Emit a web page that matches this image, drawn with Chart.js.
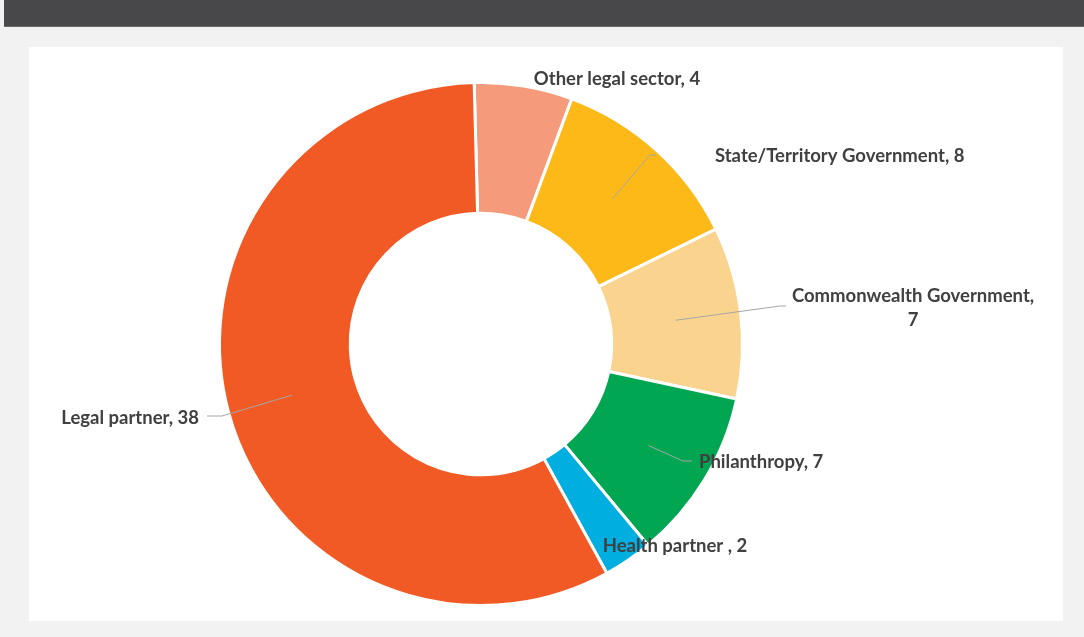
<!DOCTYPE html>
<html>
<head>
<meta charset="utf-8">
<script src="https://cdn.jsdelivr.net/npm/chart.js@4.4.1/dist/chart.umd.min.js"></script>
<style>
  html, body { margin: 0; padding: 0; }
  body { width: 1084px; height: 637px; background: #f2f2f2; position: relative; overflow: hidden; }
  .header { position: absolute; left: 4px; top: 0; width: 1080px; height: 26px; background: #48484a; border-bottom: 1px solid #6a6a6a; }
  .panel { position: absolute; left: 29px; top: 47px; width: 1034px; height: 574px; background: #fff; }
</style>
</head>
<body>
<div class="header"></div>
<div class="panel"><canvas id="fundingChart" width="1034" height="574"></canvas></div>
<script>
// Funding sources, by number of partnerships
const categories = ['Other legal sector', 'State/Territory Government', 'Commonwealth Government', 'Philanthropy', 'Health partner ', 'Legal partner'];
const counts = [4, 8, 7, 7, 2, 38];
const sliceColors = ['#f59b7b', '#fcb918', '#fad38f', '#00a651', '#00aedf', '#f15a24'];

// Label placement relative to the doughnut centre: text anchor, alignment, optional leader elbow/end
const labelLayout = [
  { x: 136, y: -265, align: 'center' },
  { x: 234, y: -188, align: 'left', elbow: [169, -189], end: [175, -189] },
  { x: 432, y: -48, align: 'center', lines: 2, elbow: [299, -38], end: [305, -38] },
  { x: 218, y: 118, align: 'left', elbow: [202, 117], end: [211, 117] },
  { x: 194, y: 202, align: 'center' },
  { x: -282, y: 74, align: 'right', elbow: [-259, 72], end: [-274, 72] }
];

const labelPlugin = {
  id: 'calloutLabels',
  afterDatasetsDraw(chart) {
    const ctx = chart.ctx;
    const meta = chart.getDatasetMeta(0);
    const cx = meta.data[0].x, cy = meta.data[0].y;
    ctx.save();
    ctx.font = 'bold 18.5px Lato';
    ctx.fillStyle = '#404040';
    ctx.textBaseline = 'middle';
    meta.data.forEach((arc, i) => {
      const lay = labelLayout[i];
      if (lay.elbow) {
        const mid = (arc.startAngle + arc.endAngle) / 2;
        const r = (arc.innerRadius + arc.outerRadius) / 2;
        ctx.beginPath();
        ctx.strokeStyle = '#a6a6a6';
        ctx.lineWidth = 1;
        ctx.moveTo(cx + Math.cos(mid) * r, cy + Math.sin(mid) * r);
        ctx.lineTo(cx + lay.elbow[0], cy + lay.elbow[1]);
        ctx.lineTo(cx + lay.end[0], cy + lay.end[1]);
        ctx.stroke();
      }
      ctx.textAlign = lay.align;
      const text = categories[i] + ', ' + counts[i];
      if (lay.lines === 2) {
        ctx.fillText(categories[i] + ',', cx + lay.x, cy + lay.y);
        ctx.fillText(String(counts[i]), cx + lay.x, cy + lay.y + 24);
      } else {
        ctx.fillText(text, cx + lay.x, cy + lay.y);
      }
    });
    ctx.restore();
  }
};

new Chart(document.getElementById('fundingChart'), {
  type: 'doughnut',
  data: {
    labels: categories,
    datasets: [{
      data: counts,
      backgroundColor: sliceColors,
      borderColor: '#ffffff',
      borderWidth: 3
    }]
  },
  options: {
    responsive: false,
    animation: false,
    rotation: -1.5,
    cutout: '50%',
    layout: { padding: { left: 0, right: 130, top: 34, bottom: 14 } },
    plugins: {
      legend: { display: false },
      tooltip: { enabled: false }
    }
  },
  plugins: [labelPlugin]
});
</script>
</body>
</html>
